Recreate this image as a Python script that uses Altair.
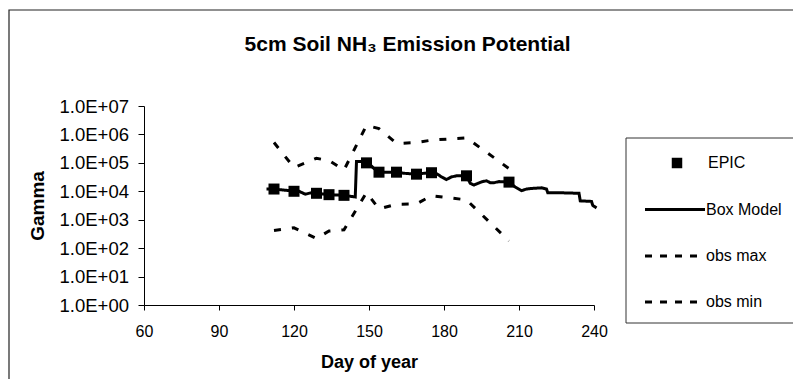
import altair as alt
import pandas as pd

F = "Liberation Sans, Arial, sans-serif"

# ---- data ----
series_names = ["EPIC", "Box Model", "obs max", "obs min"]

epic_day = [112, 120, 129, 134, 140, 149, 154, 161, 169, 175, 189, 206]
epic_gamma = [1.2e4, 1.0e4, 8.5e3, 7.6e3, 7.2e3, 1.0e5, 4.7e4, 4.7e4, 4.0e4, 4.5e4, 3.5e4, 2.1e4]

obs_day = [112, 120, 129, 134, 140, 149, 154, 161, 169, 175, 189, 206]
obs_max = [5.2e5, 6.8e4, 1.45e5, 1.2e5, 5.6e4, 2.1e6, 1.6e6, 4.8e5, 5.2e5, 6.3e5, 7.6e5, 6.3e4]
obs_min = [4.2e2, 5.2e2, 2.2e2, 4.0e2, 4.4e2, 9.0e3, 2.4e3, 3.5e3, 3.6e3, 7.0e3, 5.0e3, 1.8e2]

box_day = [109, 112, 116, 120, 122, 124.5, 127, 129, 134, 140, 144.5, 145, 148, 150, 152, 154,
           161, 164, 169, 172, 175, 177, 179, 181, 183, 185, 189, 190.5, 192, 195, 197, 198.5,
           200, 202, 206, 208.5, 211, 213, 215, 219, 221, 221.5, 226, 234, 234.5, 239, 239.5, 241]
box_gamma = [1.2e4, 1.2e4, 1.1e4, 1.02e4, 1.0e4, 7.9e3, 8.9e3, 8.5e3, 7.6e3, 7.2e3, 6.3e3,
             1.12e5, 1.12e5, 9.3e4, 6.3e4, 4.7e4, 4.7e4, 4.3e4, 4.0e4, 4.3e4, 4.5e4, 4.2e4,
             3.2e4, 2.6e4, 3.2e4, 3.5e4, 3.5e4, 1.9e4, 1.66e4, 2.14e4, 2.34e4, 2.0e4, 2.0e4,
             2.2e4, 2.1e4, 1.41e4, 1.05e4, 1.2e4, 1.26e4, 1.32e4, 1.2e4, 8.9e3, 8.9e3, 8.5e3,
             4.6e3, 4.4e3, 3.2e3, 2.6e3]

x_ticks = [60, 90, 120, 150, 180, 210, 240]
y_ticks = [1, 10, 100, 1e3, 1e4, 1e5, 1e6, 1e7]

title_text = "5cm Soil NH\u2083 Emission Potential"

# ---- tables ----
epic_df = pd.DataFrame({"day": epic_day, "gamma": epic_gamma, "series": "EPIC"})
lines_df = pd.concat([
    pd.DataFrame({"day": box_day, "gamma": box_gamma, "series": "Box Model"}),
    pd.DataFrame({"day": obs_day, "gamma": obs_max, "series": "obs max"}),
    pd.DataFrame({"day": obs_day, "gamma": obs_min, "series": "obs min"}),
], ignore_index=True)
one = pd.DataFrame({"k": [0]})

x_enc = alt.X("day:Q",
              scale=alt.Scale(domain=[60, 240], nice=False, zero=False),
              axis=alt.Axis(values=x_ticks, title="Day of year", format="d",
                            labelFontSize=16, labelPadding=13, tickSize=5, labelFlush=False,
                            titleFontSize=18, titleFontWeight="bold",
                            titleX=225, titleY=62.5, titleAlign="center",
                            titleBaseline="alphabetic"))
y_enc = alt.Y("gamma:Q",
              scale=alt.Scale(type="log", domain=[1, 1e7], nice=False),
              axis=alt.Axis(values=y_ticks, title="Gamma",
                            labelExpr="'1.0E+0' + round(log(datum.value)/LN10)",
                            labelFontSize=18.5, labelPadding=9.5, tickSize=6, labelFlush=False,
                            titleFontSize=19, titleFontWeight="bold",
                            titleX=-101, titleY=99.5, titleAngle=270, titleAlign="center",
                            titleBaseline="alphabetic"))

dash_scale = alt.Scale(domain=series_names, range=[[1, 0], [1, 0], [7, 11], [7, 11]])

# ---- plot layers ----
frame = alt.Chart(one).mark_rect(fill="transparent", stroke="#222", strokeWidth=1.2).encode(
    x=alt.value(-135), x2=alt.value(700), y=alt.value(-96), y2=alt.value(320))

lines = alt.Chart(lines_df).mark_line(color="black", strokeWidth=3).encode(
    x=x_enc, y=y_enc,
    strokeDash=alt.StrokeDash("series:N", scale=dash_scale, legend=None))

points = alt.Chart(epic_df).mark_point(shape="square", filled=True, color="black",
                                       size=121, opacity=1).encode(x=x_enc, y=y_enc)

title = alt.Chart(one).mark_text(text=title_text, font=F, fontSize=21, fontWeight="bold",
                                 align="center", baseline="alphabetic", color="black").encode(
    x=alt.value(263.5), y=alt.value(-55))

# ---- legend (drawn as a boxed key at the right) ----
leg_rows_y = [57, 103.5, 150, 196]
leg_box = alt.Chart(one).mark_rect(fill="white", stroke="#333", strokeWidth=1).encode(
    x=alt.value(482), x2=alt.value(700), y=alt.value(32), y2=alt.value(217))
leg_sq = alt.Chart(one).mark_point(shape="square", filled=True, color="black",
                                   size=110, opacity=1).encode(
    x=alt.value(533), y=alt.value(leg_rows_y[0]))
leg_lines = []
for i, dash in zip([1, 2, 3], [[1, 0], [7, 8], [7, 8]]):
    leg_lines.append(
        alt.Chart(one).mark_rule(color="black", strokeWidth=3, strokeDash=dash).encode(
            x=alt.value(501), x2=alt.value(561), y=alt.value(leg_rows_y[i])))
leg_texts = []
for i, name in enumerate(series_names):
    leg_texts.append(
        alt.Chart(one).mark_text(text=name, font=F, fontSize=16, align="left",
                                 baseline="middle", color="black").encode(
            x=alt.value(564 if i == 0 else 562), y=alt.value(leg_rows_y[i])))

chart = alt.layer(frame, lines, points, title, leg_box, leg_sq, *leg_lines, *leg_texts).properties(
    width=450, height=199,
    autosize=alt.AutoSizeParams(type="none"),
    padding={"left": 136, "top": 98, "right": 199, "bottom": 74},
    background="white",
).configure_view(stroke=None).configure_axis(
    grid=False, domainColor="black", tickColor="black", labelColor="black",
    titleColor="black", labelFont=F, titleFont=F, domainWidth=1, tickWidth=1)

chart.save("out.html", embed_options={"renderer": "svg", "actions": False})
